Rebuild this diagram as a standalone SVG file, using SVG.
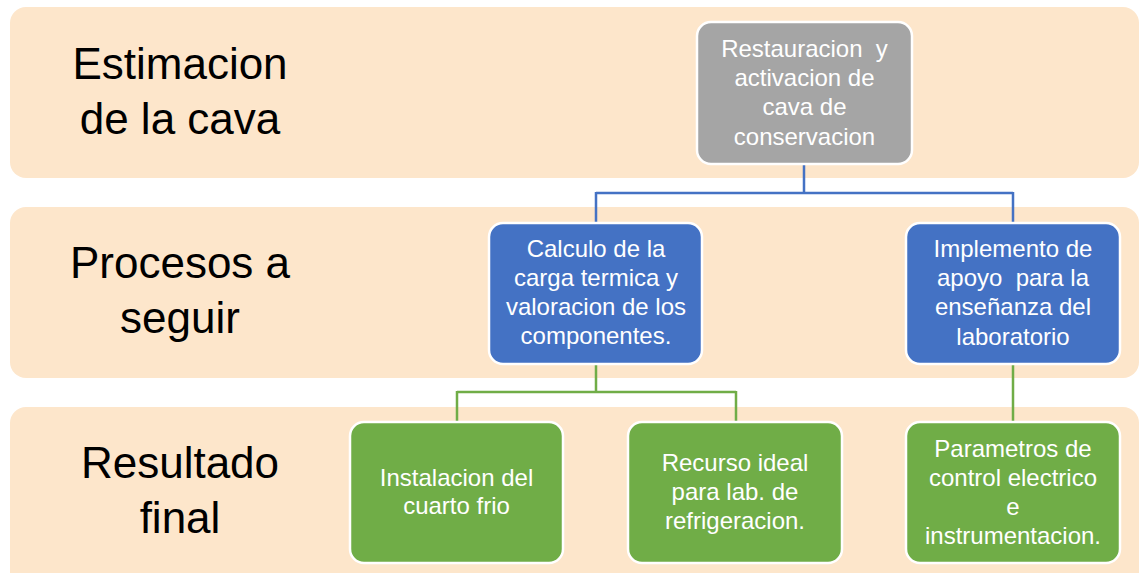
<svg xmlns="http://www.w3.org/2000/svg" width="1140" height="573" viewBox="0 0 1140 573">
<style>
.band{fill:#FDE6CB}
.lbl{font-family:"Liberation Sans",Arial,sans-serif;font-size:44px;fill:#000;text-anchor:middle}
.box{stroke:#fff;stroke-width:2.5}
.gray{fill:#A5A5A5}
.blue{fill:#4472C4}
.green{fill:#70AD47}
.t{font-family:"Liberation Sans",Arial,sans-serif;font-size:24px;fill:#fff;text-anchor:middle;white-space:pre}
.cb{fill:none;stroke:#4472C4;stroke-width:2.5}
.cg{fill:none;stroke:#70AD47;stroke-width:2.5}
</style>
<rect width="1140" height="573" fill="#fff"/>
<g id="band1"><rect class="band" x="10" y="7" width="1129" height="171" rx="16"/>
<text class="lbl" x="180" y="79">Estimacion</text><text class="lbl" x="180" y="134">de la cava</text></g>
<g id="band2"><rect class="band" x="10" y="207" width="1129" height="171" rx="16"/>
<text class="lbl" x="180" y="278">Procesos a</text><text class="lbl" x="180" y="333">seguir</text></g>
<g id="band3"><rect class="band" x="10" y="407" width="1129" height="185" rx="16"/>
<text class="lbl" x="180" y="478">Resultado</text><text class="lbl" x="180" y="533">final</text></g>
<g id="connectors">
<path class="cb" d="M804,164V193M596,193H1013M596,192V222M1013,192V222"/>
<path class="cg" d="M596,364V392M457,392H736M457,391V422M736,391V422M1013,364V422"/>
</g>
<g id="n-restauracion"><rect class="box gray" x="697" y="22" width="215" height="142" rx="14"/>
<text class="t" x="804.5" y="57">Restauracion  y</text><text class="t" x="804.5" y="86">activacion de</text><text class="t" x="804.5" y="115">cava de</text><text class="t" x="804.5" y="145">conservacion</text></g>
<g id="n-calculo"><rect class="box blue" x="489" y="223" width="213" height="141" rx="14"/>
<text class="t" x="596" y="257">Calculo de la</text><text class="t" x="596" y="286">carga termica y</text><text class="t" x="596" y="315">valoracion de los</text><text class="t" x="596" y="344">componentes.</text></g>
<g id="n-implemento"><rect class="box blue" x="906" y="223" width="214" height="141" rx="14"/>
<text class="t" x="1013" y="257">Implemento de</text><text class="t" x="1013" y="286">apoyo  para la</text><text class="t" x="1013" y="315">enseñanza del</text><text class="t" x="1013" y="345">laboratorio</text></g>
<g id="n-instalacion"><rect class="box green" x="350" y="422" width="213" height="141" rx="14"/>
<text class="t" x="456.5" y="486">Instalacion del</text><text class="t" x="456.5" y="514">cuarto frio</text></g>
<g id="n-recurso"><rect class="box green" x="628" y="422" width="214" height="141" rx="14"/>
<text class="t" x="735" y="471">Recurso ideal</text><text class="t" x="735" y="500">para lab. de</text><text class="t" x="735" y="529">refrigeracion.</text></g>
<g id="n-parametros"><rect class="box green" x="906" y="422" width="214" height="141" rx="14"/>
<text class="t" x="1013" y="457">Parametros de</text><text class="t" x="1013" y="486">control electrico</text><text class="t" x="1013" y="515">e</text><text class="t" x="1013" y="544">instrumentacion.</text></g>
</svg>
